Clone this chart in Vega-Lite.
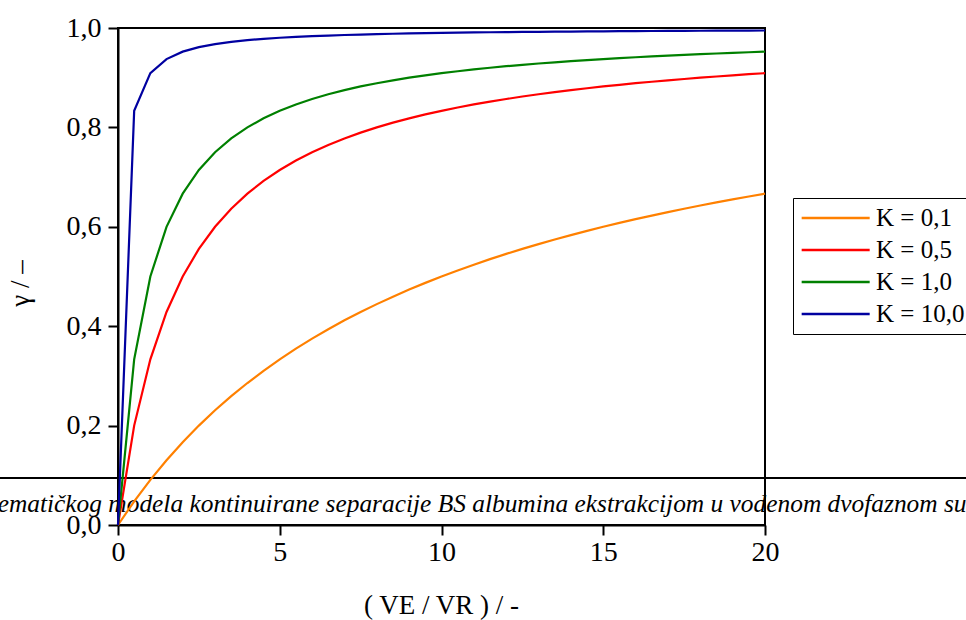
{
  "$schema": "https://vega.github.io/schema/vega-lite/v6.json",
  "autosize": {"type": "none"},
  "padding": {"left": 118, "top": 28, "right": 201, "bottom": 95},
  "width": 647,
  "height": 497,
  "background": "white",
  "config": {
    "view": {"stroke": "black", "strokeWidth": 2},
    "font": "Liberation Serif"
  },
  "datasets": {
    "one": [{"id": 1}],
    "curves": [
      {"K":"0,1","x":0,"g":0},{"K":"0,1","x":0.5,"g":0.0476},{"K":"0,1","x":1,"g":0.0909},{"K":"0,1","x":1.5,"g":0.1304},{"K":"0,1","x":2,"g":0.1667},{"K":"0,1","x":2.5,"g":0.2},{"K":"0,1","x":3,"g":0.2308},{"K":"0,1","x":3.5,"g":0.2593},{"K":"0,1","x":4,"g":0.2857},{"K":"0,1","x":4.5,"g":0.3103},{"K":"0,1","x":5,"g":0.3333},{"K":"0,1","x":5.5,"g":0.3548},{"K":"0,1","x":6,"g":0.375},{"K":"0,1","x":6.5,"g":0.3939},{"K":"0,1","x":7,"g":0.4118},{"K":"0,1","x":7.5,"g":0.4286},{"K":"0,1","x":8,"g":0.4444},{"K":"0,1","x":8.5,"g":0.4595},{"K":"0,1","x":9,"g":0.4737},{"K":"0,1","x":9.5,"g":0.4872},{"K":"0,1","x":10,"g":0.5},{"K":"0,1","x":10.5,"g":0.5122},{"K":"0,1","x":11,"g":0.5238},{"K":"0,1","x":11.5,"g":0.5349},{"K":"0,1","x":12,"g":0.5455},{"K":"0,1","x":12.5,"g":0.5556},{"K":"0,1","x":13,"g":0.5652},{"K":"0,1","x":13.5,"g":0.5745},{"K":"0,1","x":14,"g":0.5833},{"K":"0,1","x":14.5,"g":0.5918},{"K":"0,1","x":15,"g":0.6},{"K":"0,1","x":15.5,"g":0.6078},{"K":"0,1","x":16,"g":0.6154},{"K":"0,1","x":16.5,"g":0.6226},{"K":"0,1","x":17,"g":0.6296},{"K":"0,1","x":17.5,"g":0.6364},{"K":"0,1","x":18,"g":0.6429},{"K":"0,1","x":18.5,"g":0.6491},{"K":"0,1","x":19,"g":0.6552},{"K":"0,1","x":19.5,"g":0.661},{"K":"0,1","x":20,"g":0.6667},
      {"K":"0,5","x":0,"g":0},{"K":"0,5","x":0.5,"g":0.2},{"K":"0,5","x":1,"g":0.3333},{"K":"0,5","x":1.5,"g":0.4286},{"K":"0,5","x":2,"g":0.5},{"K":"0,5","x":2.5,"g":0.5556},{"K":"0,5","x":3,"g":0.6},{"K":"0,5","x":3.5,"g":0.6364},{"K":"0,5","x":4,"g":0.6667},{"K":"0,5","x":4.5,"g":0.6923},{"K":"0,5","x":5,"g":0.7143},{"K":"0,5","x":5.5,"g":0.7333},{"K":"0,5","x":6,"g":0.75},{"K":"0,5","x":6.5,"g":0.7647},{"K":"0,5","x":7,"g":0.7778},{"K":"0,5","x":7.5,"g":0.7895},{"K":"0,5","x":8,"g":0.8},{"K":"0,5","x":8.5,"g":0.8095},{"K":"0,5","x":9,"g":0.8182},{"K":"0,5","x":9.5,"g":0.8261},{"K":"0,5","x":10,"g":0.8333},{"K":"0,5","x":10.5,"g":0.84},{"K":"0,5","x":11,"g":0.8462},{"K":"0,5","x":11.5,"g":0.8519},{"K":"0,5","x":12,"g":0.8571},{"K":"0,5","x":12.5,"g":0.8621},{"K":"0,5","x":13,"g":0.8667},{"K":"0,5","x":13.5,"g":0.871},{"K":"0,5","x":14,"g":0.875},{"K":"0,5","x":14.5,"g":0.8788},{"K":"0,5","x":15,"g":0.8824},{"K":"0,5","x":15.5,"g":0.8857},{"K":"0,5","x":16,"g":0.8889},{"K":"0,5","x":16.5,"g":0.8919},{"K":"0,5","x":17,"g":0.8947},{"K":"0,5","x":17.5,"g":0.8974},{"K":"0,5","x":18,"g":0.9},{"K":"0,5","x":18.5,"g":0.9024},{"K":"0,5","x":19,"g":0.9048},{"K":"0,5","x":19.5,"g":0.907},{"K":"0,5","x":20,"g":0.9091},
      {"K":"1,0","x":0,"g":0},{"K":"1,0","x":0.5,"g":0.3333},{"K":"1,0","x":1,"g":0.5},{"K":"1,0","x":1.5,"g":0.6},{"K":"1,0","x":2,"g":0.6667},{"K":"1,0","x":2.5,"g":0.7143},{"K":"1,0","x":3,"g":0.75},{"K":"1,0","x":3.5,"g":0.7778},{"K":"1,0","x":4,"g":0.8},{"K":"1,0","x":4.5,"g":0.8182},{"K":"1,0","x":5,"g":0.8333},{"K":"1,0","x":5.5,"g":0.8462},{"K":"1,0","x":6,"g":0.8571},{"K":"1,0","x":6.5,"g":0.8667},{"K":"1,0","x":7,"g":0.875},{"K":"1,0","x":7.5,"g":0.8824},{"K":"1,0","x":8,"g":0.8889},{"K":"1,0","x":8.5,"g":0.8947},{"K":"1,0","x":9,"g":0.9},{"K":"1,0","x":9.5,"g":0.9048},{"K":"1,0","x":10,"g":0.9091},{"K":"1,0","x":10.5,"g":0.913},{"K":"1,0","x":11,"g":0.9167},{"K":"1,0","x":11.5,"g":0.92},{"K":"1,0","x":12,"g":0.9231},{"K":"1,0","x":12.5,"g":0.9259},{"K":"1,0","x":13,"g":0.9286},{"K":"1,0","x":13.5,"g":0.931},{"K":"1,0","x":14,"g":0.9333},{"K":"1,0","x":14.5,"g":0.9355},{"K":"1,0","x":15,"g":0.9375},{"K":"1,0","x":15.5,"g":0.9394},{"K":"1,0","x":16,"g":0.9412},{"K":"1,0","x":16.5,"g":0.9429},{"K":"1,0","x":17,"g":0.9444},{"K":"1,0","x":17.5,"g":0.9459},{"K":"1,0","x":18,"g":0.9474},{"K":"1,0","x":18.5,"g":0.9487},{"K":"1,0","x":19,"g":0.95},{"K":"1,0","x":19.5,"g":0.9512},{"K":"1,0","x":20,"g":0.9524},
      {"K":"10,0","x":0,"g":0},{"K":"10,0","x":0.5,"g":0.8333},{"K":"10,0","x":1,"g":0.9091},{"K":"10,0","x":1.5,"g":0.9375},{"K":"10,0","x":2,"g":0.9524},{"K":"10,0","x":2.5,"g":0.9615},{"K":"10,0","x":3,"g":0.9677},{"K":"10,0","x":3.5,"g":0.9722},{"K":"10,0","x":4,"g":0.9756},{"K":"10,0","x":4.5,"g":0.9783},{"K":"10,0","x":5,"g":0.9804},{"K":"10,0","x":5.5,"g":0.9821},{"K":"10,0","x":6,"g":0.9836},{"K":"10,0","x":6.5,"g":0.9848},{"K":"10,0","x":7,"g":0.9859},{"K":"10,0","x":7.5,"g":0.9868},{"K":"10,0","x":8,"g":0.9877},{"K":"10,0","x":8.5,"g":0.9884},{"K":"10,0","x":9,"g":0.989},{"K":"10,0","x":9.5,"g":0.9896},{"K":"10,0","x":10,"g":0.9901},{"K":"10,0","x":10.5,"g":0.9906},{"K":"10,0","x":11,"g":0.991},{"K":"10,0","x":11.5,"g":0.9914},{"K":"10,0","x":12,"g":0.9917},{"K":"10,0","x":12.5,"g":0.9921},{"K":"10,0","x":13,"g":0.9924},{"K":"10,0","x":13.5,"g":0.9926},{"K":"10,0","x":14,"g":0.9929},{"K":"10,0","x":14.5,"g":0.9932},{"K":"10,0","x":15,"g":0.9934},{"K":"10,0","x":15.5,"g":0.9936},{"K":"10,0","x":16,"g":0.9938},{"K":"10,0","x":16.5,"g":0.994},{"K":"10,0","x":17,"g":0.9942},{"K":"10,0","x":17.5,"g":0.9943},{"K":"10,0","x":18,"g":0.9945},{"K":"10,0","x":18.5,"g":0.9946},{"K":"10,0","x":19,"g":0.9948},{"K":"10,0","x":19.5,"g":0.9949},{"K":"10,0","x":20,"g":0.995}
    ]
  },
  "layer": [
    {
      "data": {"name": "one"},
      "mark": {"type": "text", "align": "left", "baseline": "alphabetic", "font": "Liberation Serif", "fontStyle": "italic", "fontSize": 25.4, "color": "black", "clip": false},
      "encoding": {
        "x": {"datum": -3.72, "type": "quantitative", "scale": {"domain": [0, 20], "nice": false}},
        "y": {"datum": 0.0262, "type": "quantitative", "scale": {"domain": [0, 1], "nice": false}},
        "text": {"value": "ematičkog modela kontinuirane separacije BS albumina ekstrakcijom u vodenom dvofaznom sustavu"}
      }
    },
    {
      "data": {"name": "one"},
      "mark": {"type": "rule", "color": "black", "strokeWidth": 2, "clip": false},
      "encoding": {
        "x": {"datum": -3.7, "type": "quantitative"},
        "x2": {"datum": 26.3},
        "y": {"datum": 0.0946, "type": "quantitative"}
      }
    },
    {
      "data": {"name": "curves"},
      "mark": {"type": "line", "strokeWidth": 2.2, "interpolate": "linear"},
      "encoding": {
        "x": {
          "field": "x", "type": "quantitative",
          "scale": {"domain": [0, 20], "nice": false},
          "axis": {
            "values": [0, 5, 10, 15, 20], "grid": false,
            "domainColor": "black", "domainWidth": 2, "tickColor": "black", "tickWidth": 2, "tickSize": 10,
            "labelFont": "Liberation Serif", "labelFontSize": 28, "labelColor": "black", "labelPadding": 3,
            "labelFlush": false,
            "title": "( VE / VR ) / -", "titleFont": "Liberation Serif", "titleFontSize": 27, "titleFontWeight": "normal", "titleColor": "black",
            "titleBaseline": "middle", "titleY": 80, "titleX": 323
          }
        },
        "y": {
          "field": "g", "type": "quantitative",
          "scale": {"domain": [0, 1], "nice": false},
          "axis": {
            "values": [0, 0.2, 0.4, 0.6, 0.8, 1.0], "grid": false,
            "labelExpr": "replace(format(datum.value, '.1f'), '.', ',')",
            "domainColor": "black", "domainWidth": 2, "tickColor": "black", "tickWidth": 2, "tickSize": 10,
            "labelFont": "Liberation Serif", "labelFontSize": 28, "labelColor": "black", "labelPadding": 7,
            "labelFlush": false,
            "title": "γ / –", "titleFont": "Liberation Serif", "titleFontSize": 27, "titleFontWeight": "normal", "titleColor": "black",
            "titleAngle": -90, "titleBaseline": "middle", "titleAlign": "center", "titleX": -98, "titleY": 255
          }
        },
        "color": {
          "field": "K", "type": "nominal",
          "scale": {"domain": ["0,1", "0,5", "1,0", "10,0"], "range": ["#FF8000", "#FF0000", "#008000", "#0000A0"]},
          "legend": {
            "orient": "none", "legendX": 675, "legendY": 170,
            "title": null,
            "labelExpr": "'K = ' + datum.label",
            "labelFont": "Liberation Serif", "labelFontSize": 25, "labelColor": "black",
            "symbolType": "M-1,0H5", "symbolSize": 514, "symbolStrokeWidth": 2.5,
            "labelOffset": 50, "rowPadding": 6, "padding": 7,
            "strokeColor": "black", "fillColor": "white"
          }
        }
      }
    }
  ]
}
